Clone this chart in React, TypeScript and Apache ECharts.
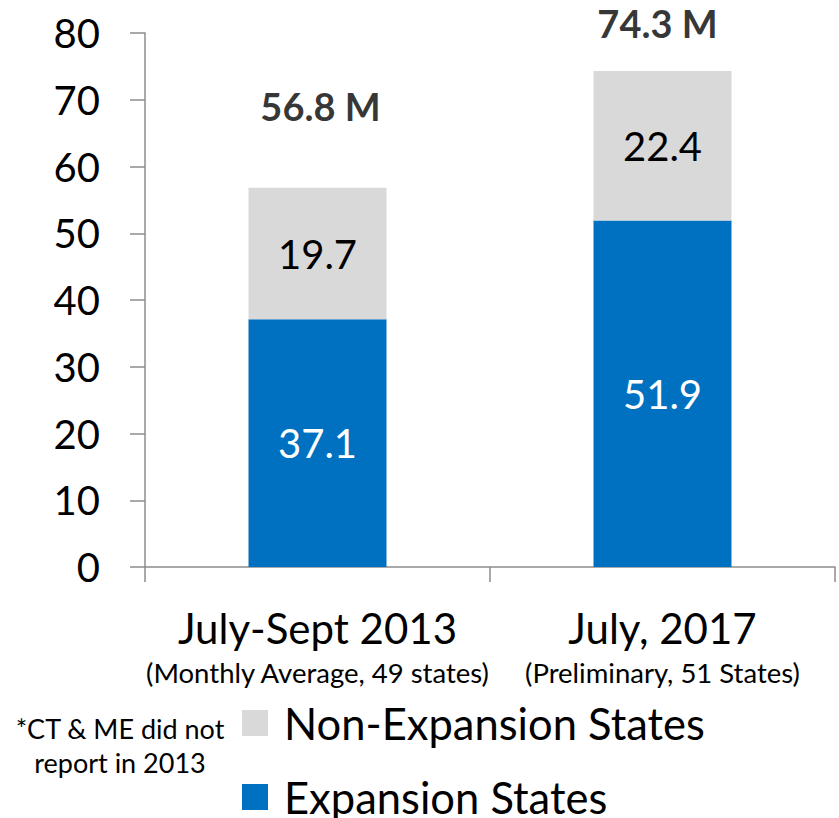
import React, { useEffect, useRef } from "react";
import * as echarts from "echarts";

const categories = ["July-Sept 2013", "July, 2017"];
const subtitles = ["(Monthly Average, 49 states)", "(Preliminary, 51 States)"];
const expansion = [37.1, 51.9];
const nonExpansion = [19.7, 22.4];
const totals = [56.8, 74.3];
const yTicks = [0, 10, 20, 30, 40, 50, 60, 70, 80];
const footnote = ["*CT & ME did not", "report in 2013"];

const FONT = "Lato";
const BLUE = "#0070C0";
const GRAY = "#D9D9D9";

export default function App() {
  const ref = useRef<HTMLDivElement>(null);
  useEffect(() => {
    document.body.style.margin = "0";
    const chart = echarts.init(ref.current!, null, { renderer: "svg" });
    const option: any = {
      animation: false,
      backgroundColor: "#ffffff",
      textStyle: { fontFamily: FONT },
      grid: { left: 145, right: 4, top: 33, bottom: 251, containLabel: false },
      legend: {
        orient: "vertical",
        left: 242,
        top: 701,
        width: 500,
        height: 200,
        padding: 0,
        itemWidth: 26,
        itemHeight: 26,
        itemGap: 30,
        icon: "rect",
        data: ["Non-Expansion States", "Expansion States"],
        textStyle: { fontFamily: FONT, fontSize: 43.5, color: "#000", lineHeight: 42, padding: [0, 0, 0, 11] },
      },
      xAxis: {
        type: "category",
        data: categories,
        axisLine: { lineStyle: { color: "#8c8c8c", width: 1.5 } },
        axisTick: { show: true, length: 15, alignWithLabel: false, lineStyle: { color: "#8c8c8c", width: 1.5 } },
        axisLabel: {
          margin: 36,
          interval: 0,
          formatter: (v: string, i: number) => `{a|${v}}\n{b|${subtitles[i]}}`,
          rich: {
            a: { fontFamily: FONT, fontSize: 42, lineHeight: 50, color: "#000" },
            b: { fontFamily: FONT, fontSize: 27.5, lineHeight: 38, color: "#000" },
          },
        },
      },
      yAxis: {
        type: "value",
        min: yTicks[0],
        max: yTicks[yTicks.length - 1],
        interval: yTicks[1] - yTicks[0],
        splitLine: { show: false },
        axisLine: { show: true, lineStyle: { color: "#8c8c8c", width: 1.5 } },
        axisTick: { show: true, length: 15, lineStyle: { color: "#8c8c8c", width: 1.5 } },
        axisLabel: { margin: 45, fontFamily: FONT, fontSize: 40, color: "#000" },
      },
      series: [
        {
          name: "Expansion States",
          type: "bar",
          stack: "total",
          barWidth: "40%",
          data: expansion,
          itemStyle: { color: BLUE },
          label: { show: true, position: "inside", fontFamily: FONT, fontSize: 40, color: "#fff" },
        },
        {
          name: "Non-Expansion States",
          type: "bar",
          stack: "total",
          barWidth: "40%",
          data: nonExpansion,
          itemStyle: { color: GRAY },
          label: { show: true, position: "inside", fontFamily: FONT, fontSize: 40, color: "#000" },
        },
        {
          name: "Total",
          type: "scatter",
          symbolSize: 0,
          data: totals.map((t, i) => ({
            value: [i, t],
            label: { offset: i === 0 ? [3, -82] : [-5, -48] },
          })),
          label: {
            show: true,
            position: "inside",
            formatter: (p: any) => `${p.value[1]} M`,
            fontFamily: FONT,
            fontWeight: "bold",
            fontSize: 38,
            color: "#000",
          },
          silent: true,
        },
      ],
      graphic: [
        {
          type: "text",
          x: 120,
          y: 711,
          style: {
            text: footnote.join("\n"),
            font: `27px ${FONT}`,
            fill: "#000",
            align: "center",
            verticalAlign: "top",
            lineHeight: 34,
          },
        },
      ],
    };
    chart.setOption(option);
    return () => chart.dispose();
  }, []);
  return <div ref={ref} style={{ width: 839, height: 818 }} />;
}
